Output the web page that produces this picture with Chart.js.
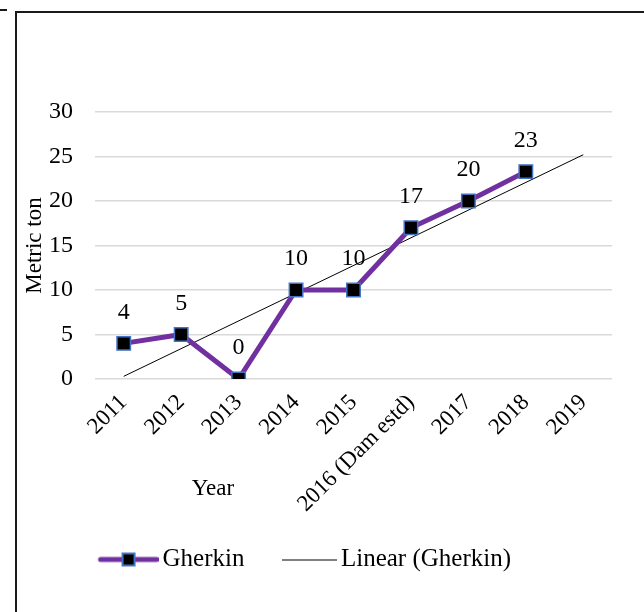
<!DOCTYPE html>
<html>
<head>
<meta charset="utf-8">
<script src="https://cdn.jsdelivr.net/npm/chart.js@4"></script>
<style>
  html,body{margin:0;padding:0;background:#fff;overflow:hidden;}
  #wrap{position:relative;width:644px;height:612px;}
  #frame{position:absolute;left:15px;top:11px;width:700px;height:700px;border-left:2px solid #1a1a1a;border-top:2px solid #1a1a1a;}
  #dash{position:absolute;left:0;top:9px;width:7px;height:2px;background:#1a1a1a;}
  canvas{position:absolute;left:0;top:0;}
</style>
</head>
<body>
<div id="wrap">
  <div id="frame"></div>
  <div id="dash"></div>
  <canvas id="c" width="644" height="612"></canvas>
</div>
<script>
// ---- data ----
const categories = ['2011','2012','2013','2014','2015','2016 (Dam estd)','2017','2018','2019'];
const gherkin = [4, 5, 0, 10, 10, 17, 20, 23.3, null];
const gherkinLabels = ['4','5','0','10','10','17','20','23'];
const trend = [0.3, null, null, null, null, null, null, null, 25.2];
const yTicks = [0, 5, 10, 15, 20, 25, 30];
const seriesNames = ['Gherkin', 'Linear (Gherkin)'];
const yTitle = 'Metric ton';
const xTitle = 'Year';

const FONT = '"Liberation Serif", "Times New Roman", serif';
const PURPLE = '#7030A0';

function legendIcon(kind){
  const cv = document.createElement('canvas');
  cv.width = 77; cv.height = 18;
  const g = cv.getContext('2d');
  if (kind === 0){
    g.strokeStyle = PURPLE; g.lineWidth = 5; g.lineCap = 'round';
    g.beginPath(); g.moveTo(19, 9); g.lineTo(75, 9); g.stroke();
    g.fillStyle = '#4472C4'; g.fillRect(40, 2, 14, 14);
    g.fillStyle = '#000'; g.fillRect(42, 4, 10, 10);
  } else {
    g.strokeStyle = '#000'; g.lineWidth = 1;
    g.beginPath(); g.moveTo(22, 9.5); g.lineTo(77, 9.5); g.stroke();
  }
  return cv;
}
const icons = [legendIcon(0), legendIcon(1)];

const dataLabelPlugin = {
  id: 'dataLabels',
  afterDatasetsDraw(chart){
    const ctx = chart.ctx;
    const meta = chart.getDatasetMeta(0);
    ctx.save();
    ctx.font = '24px ' + FONT;
    ctx.fillStyle = '#000';
    ctx.textAlign = 'center';
    ctx.textBaseline = 'middle';
    meta.data.forEach((pt, i) => {
      if (gherkin[i] === null) return;
      ctx.fillText(gherkinLabels[i], pt.x, pt.y - 31);
    });
    ctx.restore();
  }
};

const xTitlePlugin = {
  id: 'xTitle',
  afterDraw(chart){
    const ctx = chart.ctx;
    const xs = chart.scales.x;
    ctx.save();
    ctx.font = '23px ' + FONT;
    ctx.fillStyle = '#000';
    ctx.textAlign = 'center';
    ctx.textBaseline = 'middle';
    const px = (xs.getPixelForValue(1) + xs.getPixelForValue(2)) / 2 + 3;
    ctx.fillText(xTitle, px, xs.bottom - 34);
    ctx.restore();
  }
};

const legendShiftPlugin = {
  id: 'legendShift',
  afterLayout(chart){
    if (chart.legend){ chart.legend.left -= 14; chart.legend.right -= 14; }
  }
};

new Chart(document.getElementById('c'), {
  type: 'line',
  data: {
    labels: categories,
    datasets: [
      {
        label: seriesNames[0],
        data: gherkin,
        borderColor: PURPLE,
        borderWidth: 5,
        pointStyle: 'rect',
        pointRadius: 9.5,
        pointHoverRadius: 9.5,
        pointBackgroundColor: '#000',
        pointBorderColor: '#4472C4',
        pointBorderWidth: 1.5,
        tension: 0,
        order: 1
      },
      {
        label: seriesNames[1],
        data: trend,
        borderColor: '#000',
        borderWidth: 1,
        pointRadius: 0,
        spanGaps: true,
        tension: 0,
        order: 2
      }
    ]
  },
  options: {
    responsive: false,
    animation: false,
    devicePixelRatio: 1,
    layout: { padding: { left: 17, top: 112, right: 32, bottom: 30 } },
    plugins: {
      tooltip: { enabled: false },
      legend: {
        position: 'bottom',
        labels: {
          usePointStyle: true,
          pointStyleWidth: 60,
          padding: 24,
          color: '#000',
          font: { family: FONT, size: 25 },
          generateLabels(chart){
            const items = Chart.defaults.plugins.legend.labels.generateLabels(chart);
            items.forEach((it, i) => { it.pointStyle = icons[i]; });
            return items;
          }
        }
      }
    },
    scales: {
      x: {
        offset: true,
        grid: { display: false, drawTicks: false },
        border: { display: false },
        ticks: {
          color: '#000',
          font: { family: FONT, size: 23 },
          minRotation: 45,
          maxRotation: 45,
          padding: 10,
          autoSkip: false
        },
        afterFit(scale){ scale.height = 144; }
      },
      y: {
        min: 0,
        max: 30,
        afterBuildTicks(scale){ scale.ticks = yTicks.map(v => ({ value: v })); },
        grid: { color: '#d9d9d9', lineWidth: 1.5, drawTicks: false },
        border: { display: false },
        ticks: {
          color: '#000',
          font: { family: FONT, size: 24 },
          padding: 22
        },
        title: {
          display: true,
          text: yTitle,
          color: '#000',
          font: { family: FONT, size: 23 },
          padding: { top: 4, bottom: 0 }
        },
        afterFit(scale){ scale.width = 78; }
      }
    }
  },
  plugins: [dataLabelPlugin, xTitlePlugin, legendShiftPlugin]
});
</script>
</body>
</html>
